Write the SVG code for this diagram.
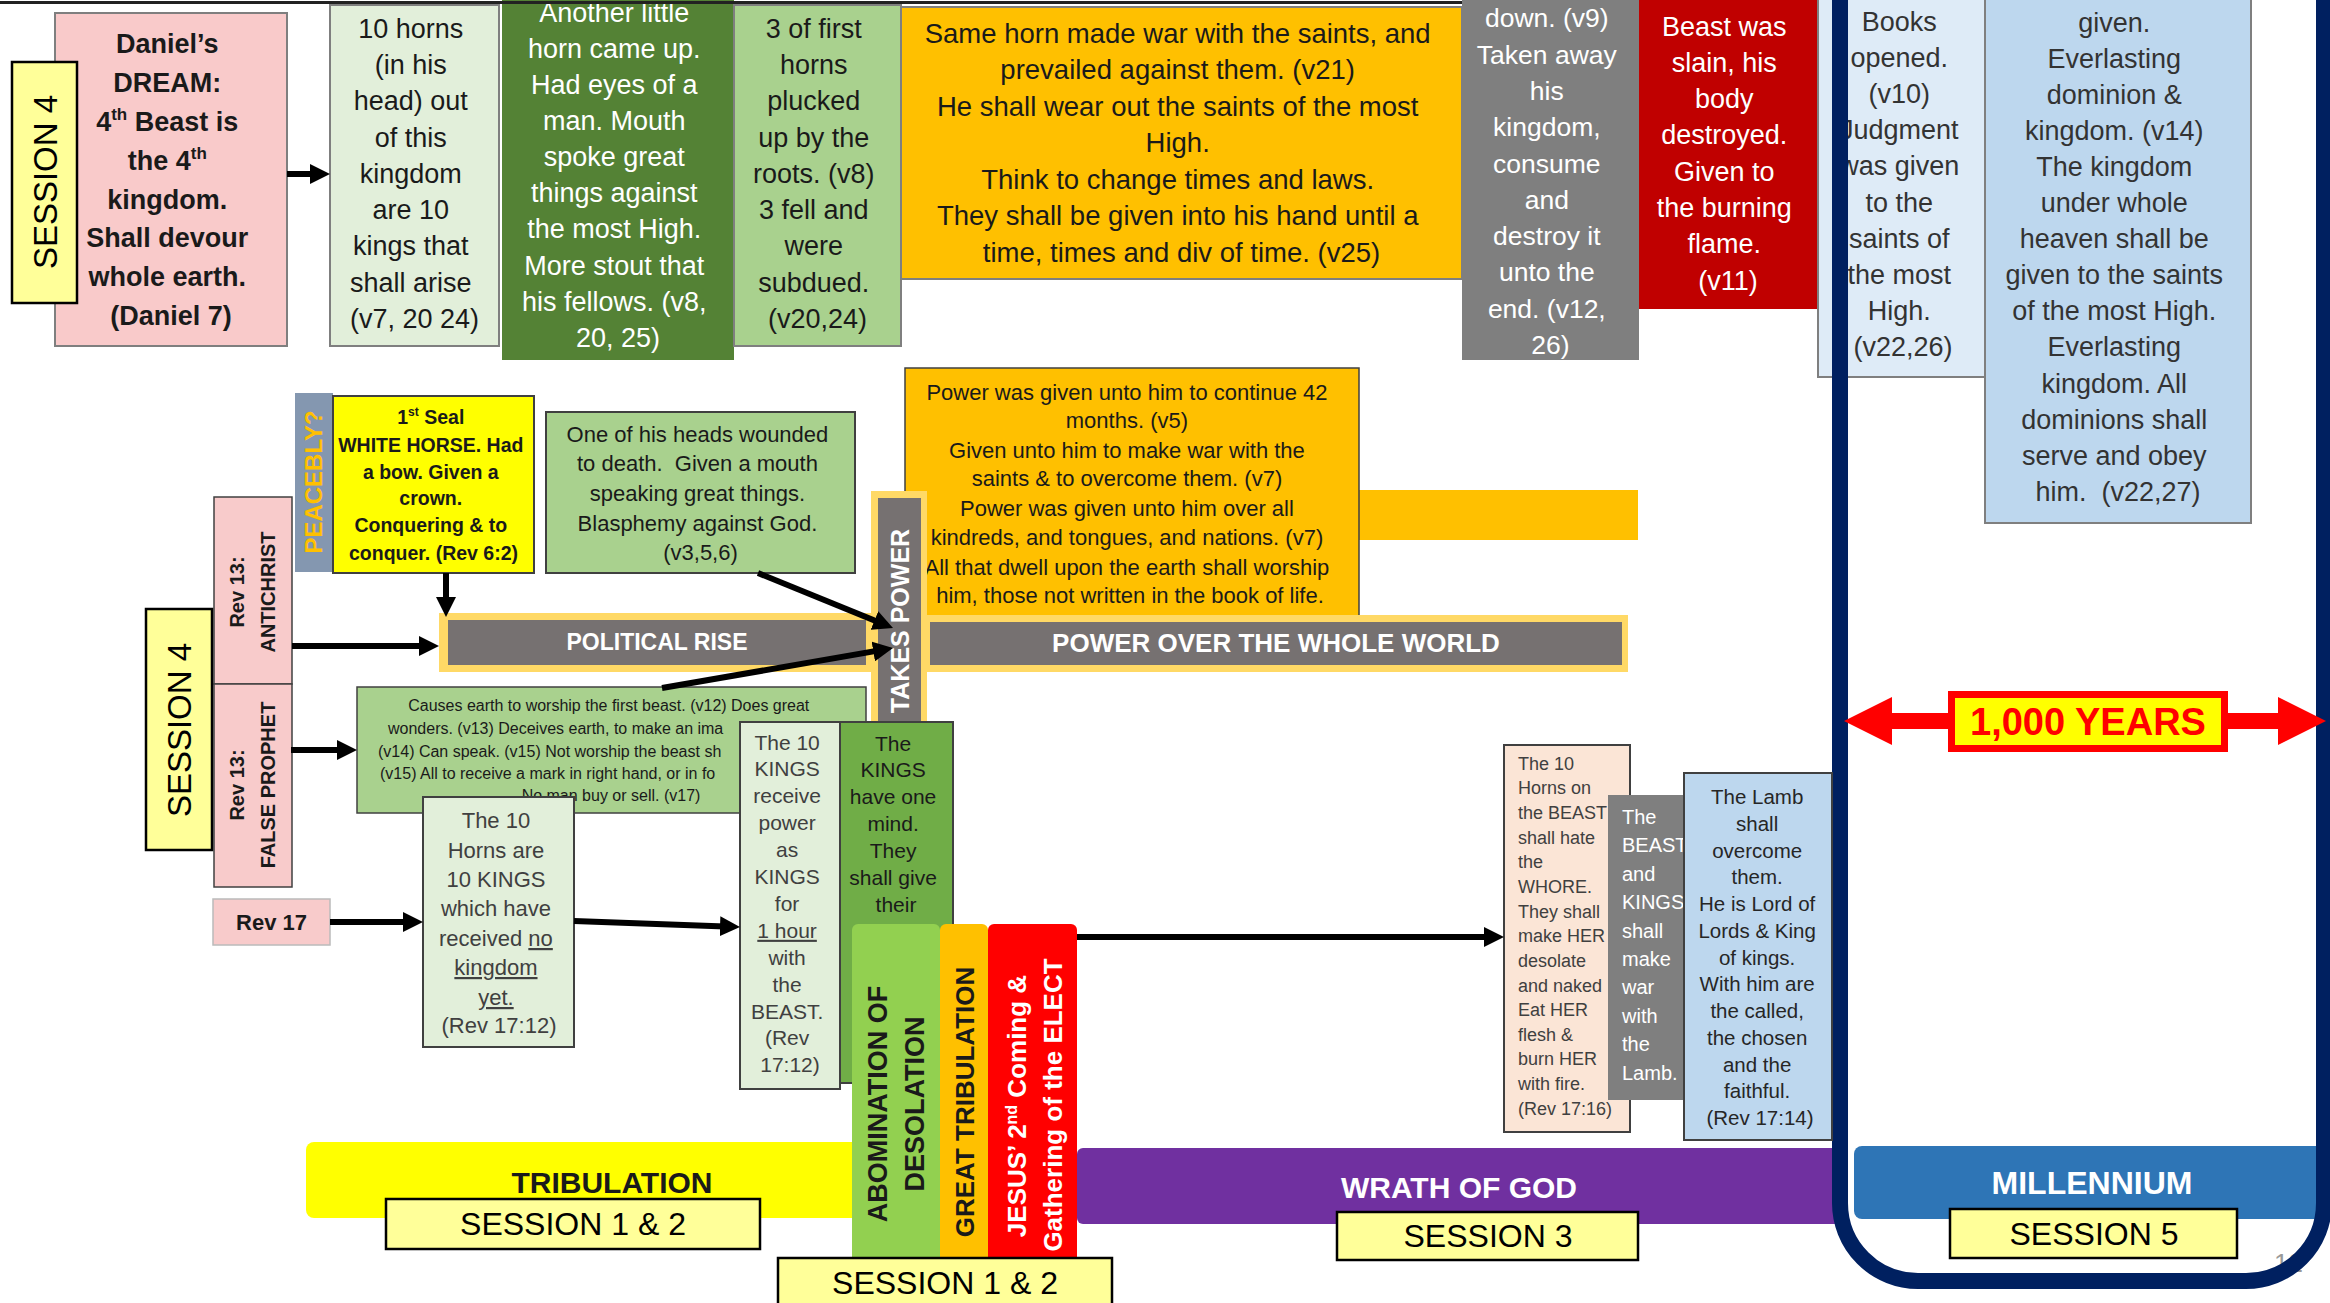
<svg xmlns="http://www.w3.org/2000/svg" width="2330" height="1303" viewBox="0 0 2330 1303">
<defs>
<style>
text{font-family:"Liberation Sans",Arial,sans-serif;}
.c{text-anchor:middle;}
.b{font-weight:bold;}
.box{stroke:#7f7f7f;stroke-width:2;}
.dk{stroke:#404040;stroke-width:2;}
.ses{fill:#FFFF99;stroke:#000;stroke-width:2.5;}
.w{fill:#fff;}
.k{fill:#1a1a1a;}
.g4{fill:#404040;}
.conn{stroke:#000;stroke-width:6;fill:none;marker-end:url(#ah);}
.u{text-decoration:underline;}
.gold{fill:#FFD966;}
.bar{fill:#767171;}
</style>
<marker id="ah" markerUnits="userSpaceOnUse" markerWidth="20" markerHeight="20" viewBox="0 0 20 20" refX="12" refY="10" orient="auto">
<path d="M0,0 L20,10 L0,20 z" fill="#000"/>
</marker>
</defs>
<rect width="2330" height="1303" fill="#fff"/>

<!-- top row -->
<g id="daniel">
<rect x="55" y="13" width="232" height="333" fill="#F9CACA" class="box"/>
<text class="c b k" font-size="27">
<tspan x="171" y="53">Daniel’s</tspan>
<tspan x="171" y="92">DREAM:</tspan>
<tspan x="171" y="131">4<tspan font-size="17" dy="-11">th</tspan><tspan dy="11"> Beast is</tspan></tspan>
<tspan x="171" y="170">the 4<tspan font-size="17" dy="-11">th</tspan></tspan>
<tspan x="171" y="209">kingdom.</tspan>
<tspan x="171" y="247">Shall devour</tspan>
<tspan x="171" y="286">whole earth.</tspan>
<tspan x="171" y="325">(Daniel 7)</tspan>
</text>
</g>
<g id="session4top">
<rect x="12" y="62" width="65" height="241" class="ses"/>
<text class="c" font-size="33" fill="#000" transform="translate(45,182) rotate(-90)" dy="0.35em">SESSION 4</text>
</g>
<g id="horns10">
<rect x="330" y="5" width="169" height="341" fill="#E2EFDA" class="box"/>
<text class="c k" font-size="27">
<tspan x="414.5" y="37.5">10 horns</tspan>
<tspan x="414.5" y="73.5">(in his</tspan>
<tspan x="414.5" y="110">head) out</tspan>
<tspan x="414.5" y="146.5">of this</tspan>
<tspan x="414.5" y="182.5">kingdom</tspan>
<tspan x="414.5" y="218.5">are 10</tspan>
<tspan x="414.5" y="255">kings that</tspan>
<tspan x="414.5" y="291.5">shall arise</tspan>
<tspan x="414.5" y="327.5">(v7, 20 24)</tspan>
</text>
</g>
<g id="littlehorn">
<rect x="502" y="0" width="232" height="360" fill="#548235"/>
<text class="c w" font-size="27">
<tspan x="618" y="21.5">Another little</tspan>
<tspan x="618" y="57.5">horn came up.</tspan>
<tspan x="618" y="93.5">Had eyes of a</tspan>
<tspan x="618" y="129.5">man. Mouth</tspan>
<tspan x="618" y="166">spoke great</tspan>
<tspan x="618" y="202">things against</tspan>
<tspan x="618" y="238">the most High.</tspan>
<tspan x="618" y="274.5">More stout that</tspan>
<tspan x="618" y="310.5">his fellows. (v8,</tspan>
<tspan x="618" y="346.5">20, 25)</tspan>
</text>
</g>
<g id="threehorns">
<rect x="734" y="5" width="167" height="341" fill="#A9D18E" class="box"/>
<text class="c k" font-size="27">
<tspan x="817.5" y="37.5">3 of first</tspan>
<tspan x="817.5" y="73.5">horns</tspan>
<tspan x="817.5" y="110">plucked</tspan>
<tspan x="817.5" y="146.5">up by the</tspan>
<tspan x="817.5" y="182.5">roots. (v8)</tspan>
<tspan x="817.5" y="218.5">3 fell and</tspan>
<tspan x="817.5" y="255">were</tspan>
<tspan x="817.5" y="291.5">subdued.</tspan>
<tspan x="817.5" y="327.5">(v20,24)</tspan>
</text>
</g>
<g id="samehorn">
<rect x="901" y="7" width="561" height="272" fill="#FFC000" class="box"/>
<text class="c k" font-size="27.5">
<tspan x="1181.5" y="42.7">Same horn made war with the saints, and</tspan>
<tspan x="1181.5" y="79.2">prevailed against them. (v21)</tspan>
<tspan x="1181.5" y="115.7">He shall wear out the saints of the most</tspan>
<tspan x="1181.5" y="152.2">High.</tspan>
<tspan x="1181.5" y="188.7">Think to change times and laws.</tspan>
<tspan x="1181.5" y="225.2">They shall be given into his hand until a</tspan>
<tspan x="1181.5" y="261.7">time, times and div of time. (v25)</tspan>
</text>
</g>
<g id="takenaway">
<rect x="1462" y="0" width="177" height="360" fill="#7F7F7F"/>
<text class="c w" font-size="26.5">
<tspan x="1550.5" y="27.3">down. (v9)</tspan>
<tspan x="1550.5" y="63.6">Taken away</tspan>
<tspan x="1550.5" y="99.9">his</tspan>
<tspan x="1550.5" y="136.2">kingdom,</tspan>
<tspan x="1550.5" y="172.5">consume</tspan>
<tspan x="1550.5" y="208.8">and</tspan>
<tspan x="1550.5" y="245.1">destroy it</tspan>
<tspan x="1550.5" y="281.4">unto the</tspan>
<tspan x="1550.5" y="317.7">end. (v12,</tspan>
<tspan x="1550.5" y="354">26)</tspan>
</text>
</g>
<g id="beastslain">
<rect x="1639" y="0" width="178" height="309" fill="#C00000"/>
<text class="c w" font-size="27">
<tspan x="1728" y="35.5">Beast was</tspan>
<tspan x="1728" y="71.8">slain, his</tspan>
<tspan x="1728" y="108.1">body</tspan>
<tspan x="1728" y="144.4">destroyed.</tspan>
<tspan x="1728" y="180.7">Given to</tspan>
<tspan x="1728" y="217">the burning</tspan>
<tspan x="1728" y="253.3">flame.</tspan>
<tspan x="1728" y="289.6">(v11)</tspan>
</text>
</g>
<g id="books">
<rect x="1818" y="-2" width="167" height="379" fill="#DEEBF7" class="box"/>
<text class="c" fill="#333" font-size="27">
<tspan x="1903" y="30.5">Books</tspan>
<tspan x="1903" y="66.7">opened.</tspan>
<tspan x="1903" y="102.9">(v10)</tspan>
<tspan x="1903" y="139.1">Judgment</tspan>
<tspan x="1903" y="175.3">was given</tspan>
<tspan x="1903" y="211.5">to the</tspan>
<tspan x="1903" y="247.7">saints of</tspan>
<tspan x="1903" y="283.9">the most</tspan>
<tspan x="1903" y="320.1">High.</tspan>
<tspan x="1903" y="356.3">(v22,26)</tspan>
</text>
</g>
<g id="everlasting">
<rect x="1985" y="-2" width="266" height="525" fill="#BDD7EE" class="box"/>
<text class="c" fill="#333" font-size="27">
<tspan x="2118" y="31.5">given.</tspan>
<tspan x="2118" y="67.6">Everlasting</tspan>
<tspan x="2118" y="103.7">dominion &amp;</tspan>
<tspan x="2118" y="139.8">kingdom. (v14)</tspan>
<tspan x="2118" y="175.9">The kingdom</tspan>
<tspan x="2118" y="212">under whole</tspan>
<tspan x="2118" y="248.1">heaven shall be</tspan>
<tspan x="2118" y="284.2">given to the saints</tspan>
<tspan x="2118" y="320.3">of the most High.</tspan>
<tspan x="2118" y="356.4">Everlasting</tspan>
<tspan x="2118" y="392.5">kingdom. All</tspan>
<tspan x="2118" y="428.6">dominions shall</tspan>
<tspan x="2118" y="464.7">serve and obey</tspan>
<tspan x="2118" y="500.8">him.&#160; (v22,27)</tspan>
</text>
</g>

<g id="wrath">
<rect x="1077" y="1148" width="769" height="76" rx="6" fill="#7030A0"/>
<text class="c b w" font-size="30" x="1459" y="1198">WRATH OF GOD</text>
</g>
<g id="millennium">
<rect x="1854" y="1146" width="470" height="73" rx="8" fill="#2E75B6"/>
<text class="c b w" font-size="32" x="2092" y="1194">MILLENNIUM</text>
</g>
<text x="2274" y="1272" font-size="26" fill="#999">12</text>
<g id="frame">
<rect x="1840" y="-90" width="484" height="1371" rx="78" fill="none" stroke="#002060" stroke-width="16"/>
</g>
<g id="years">
<rect x="1890" y="713" width="390" height="16" fill="#FF0000"/>
<polygon points="1844,721 1892,697 1892,745" fill="#FF0000"/>
<polygon points="2326,721 2278,697 2278,745" fill="#FF0000"/>
<rect x="1951.5" y="694.5" width="273" height="54" fill="#FFFF00" stroke="#FF0000" stroke-width="7"/>
<text class="c b" font-size="38" fill="#FF0000" x="2088" y="735">1,000 YEARS</text>
</g>
<g id="session5">
<rect x="1950" y="1209" width="287" height="49" class="ses"/>
<text class="c" font-size="32" fill="#000" x="2094" y="1245">SESSION 5</text>
</g>

<!-- middle -->
<g id="peacebly">
<rect x="295" y="393" width="38" height="179" fill="#8497B0"/>
<text class="c b" font-size="24" fill="#FFC000" transform="translate(314,482) rotate(-90)" dy="0.35em">PEACEBLY?</text>
</g>
<g id="whitehorse">
<rect x="333" y="396" width="201" height="177" fill="#FFFF00" class="dk"/>
<text class="c b k" font-size="19.5">
<tspan x="433.5" y="424">1<tspan font-size="12" dy="-8">st</tspan><tspan dy="8"> Seal</tspan></tspan>
<tspan x="433.5" y="452">WHITE HORSE. Had</tspan>
<tspan x="433.5" y="479">a bow. Given a</tspan>
<tspan x="433.5" y="505">crown.</tspan>
<tspan x="433.5" y="532">Conquering &amp; to</tspan>
<tspan x="433.5" y="560">conquer. (Rev 6:2)</tspan>
</text>
</g>
<g id="heads">
<rect x="546" y="412" width="309" height="161" fill="#A9D18E" class="dk"/>
<text class="c k" font-size="22">
<tspan x="700.5" y="442">One of his heads wounded</tspan>
<tspan x="700.5" y="471">to death.&#160; Given a mouth</tspan>
<tspan x="700.5" y="501">speaking great things.</tspan>
<tspan x="700.5" y="531">Blasphemy against God.</tspan>
<tspan x="700.5" y="560">(v3,5,6)</tspan>
</text>
</g>
<g id="goldstrip">
<rect x="1359" y="490" width="279" height="50" fill="#FFC000"/>
</g>
<g id="powergiven">
<rect x="905" y="368" width="454" height="249" fill="#FFC000" stroke="#404040" stroke-width="1.5"/>
<text class="c k" font-size="22">
<tspan x="1130" y="400">Power was given unto him to continue 42</tspan>
<tspan x="1130" y="428">months. (v5)</tspan>
<tspan x="1130" y="458">Given unto him to make war with the</tspan>
<tspan x="1130" y="486">saints &amp; to overcome them. (v7)</tspan>
<tspan x="1130" y="516">Power was given unto him over all</tspan>
<tspan x="1130" y="545">kindreds, and tongues, and nations. (v7)</tspan>
<tspan x="1130" y="575">All that dwell upon the earth shall worship</tspan>
<tspan x="1130" y="603">him, those not written in the book of life.</tspan>
</text>
</g>
<g id="politicalrise">
<rect x="439" y="613" width="434" height="59" class="gold"/>
<rect x="448" y="620" width="418" height="45" class="bar"/>
<text class="c b w" font-size="23" x="657" y="650">POLITICAL RISE</text>
</g>
<g id="powerworld">
<rect x="924" y="615" width="704" height="57" class="gold"/>
<rect x="930" y="622" width="692" height="43" class="bar"/>
<text class="c b w" font-size="26" x="1276" y="652">POWER OVER THE WHOLE WORLD</text>
</g>
<g id="takespower">
<rect x="871" y="491" width="56" height="240" class="gold"/>
<rect x="878" y="498" width="43" height="233" class="bar"/>
<text class="c b w" font-size="25" transform="translate(900,621) rotate(-90)" dy="0.35em">TAKES POWER</text>
</g>
<g id="antichrist">
<rect x="214" y="497" width="78" height="187" fill="#F8CBCB" stroke="#404040" stroke-width="1.5"/>
<text class="c b k" font-size="20" transform="translate(237,592) rotate(-90)" dy="0.35em">Rev 13:</text>
<text class="c b k" font-size="20" transform="translate(268,592) rotate(-90)" dy="0.35em">ANTICHRIST</text>
</g>
<g id="falseprophet">
<rect x="214" y="684" width="78" height="203" fill="#F8CBCB" stroke="#404040" stroke-width="1.5"/>
<text class="c b k" font-size="20" transform="translate(237,785) rotate(-90)" dy="0.35em">Rev 13:</text>
<text class="c b k" font-size="20" transform="translate(268,785) rotate(-90)" dy="0.35em">FALSE PROPHET</text>
</g>
<g id="session4mid">
<rect x="146" y="609" width="66" height="241" class="ses"/>
<text class="c" font-size="33" fill="#000" transform="translate(179,730) rotate(-90)" dy="0.35em">SESSION 4</text>
</g>
<g id="rev17">
<rect x="213" y="899" width="117" height="46" fill="#F8CBCB" stroke="#bbb" stroke-width="1.5"/>
<text class="c b k" font-size="22" x="271.5" y="930">Rev 17</text>
</g>
<g id="causes">
<rect x="357" y="687" width="509" height="126" fill="#A9D18E" stroke="#404040" stroke-width="1.5"/>
<text class="k" font-size="16">
<tspan x="611" y="711" text-anchor="middle">Causes earth to worship the first beast. (v12) Does great</tspan>
<tspan x="388" y="734">wonders. (v13) Deceives earth, to make an ima</tspan>
<tspan x="378" y="757">(v14) Can speak. (v15) Not worship the beast sh</tspan>
<tspan x="380" y="779">(v15) All to receive a mark in right hand, or in fo</tspan>
<tspan x="611" y="801" text-anchor="middle">No man buy or sell. (v17)</tspan>
</text>
</g>
<g id="tenhornskings">
<rect x="423" y="797" width="151" height="250" fill="#E2EFDA" class="dk"/>
<text class="c g4" font-size="22">
<tspan x="499" y="828">The 10</tspan>
<tspan x="499" y="858">Horns are</tspan>
<tspan x="499" y="887">10 KINGS</tspan>
<tspan x="499" y="916">which have</tspan>
<tspan x="499" y="946">received <tspan class="u">no</tspan></tspan>
<tspan x="499" y="975" class="u">kingdom</tspan>
<tspan x="499" y="1005" class="u">yet.</tspan>
<tspan x="499" y="1033">(Rev 17:12)</tspan>
</text>
</g>
<g id="tenkings">
<rect x="740" y="722" width="100" height="367" fill="#E2EFDA" class="dk"/>
<text class="c g4" font-size="21">
<tspan x="790" y="749.5">The 10</tspan>
<tspan x="790" y="776.4">KINGS</tspan>
<tspan x="790" y="803.3">receive</tspan>
<tspan x="790" y="830.2">power</tspan>
<tspan x="790" y="857.1">as</tspan>
<tspan x="790" y="884">KINGS</tspan>
<tspan x="790" y="910.9">for</tspan>
<tspan x="790" y="937.8" class="u">1 hour</tspan>
<tspan x="790" y="964.7">with</tspan>
<tspan x="790" y="991.6">the</tspan>
<tspan x="790" y="1018.5">BEAST.</tspan>
<tspan x="790" y="1045.4">(Rev</tspan>
<tspan x="790" y="1072.3">17:12)</tspan>
</text>
</g>
<g id="onemind">
<rect x="840" y="722" width="113" height="361" fill="#70AD47" class="dk"/>
<text class="c k" font-size="21">
<tspan x="896" y="750.5">The</tspan>
<tspan x="896" y="777.4">KINGS</tspan>
<tspan x="896" y="804.3">have one</tspan>
<tspan x="896" y="831.2">mind.</tspan>
<tspan x="896" y="858.1">They</tspan>
<tspan x="896" y="885">shall give</tspan>
<tspan x="896" y="911.9">their</tspan>
</text>
</g>
<g id="tribulation">
<rect x="306" y="1142" width="556" height="76" rx="8" fill="#FFFF00"/>
<text class="c b k" font-size="30" x="612" y="1193">TRIBULATION</text>
</g>
<g id="abomination">
<rect x="852" y="924" width="88" height="350" rx="6" fill="#92D050"/>
<text class="c b k" font-size="27" transform="translate(878,1104) rotate(-90)" dy="0.35em">ABOMINATION OF</text>
<text class="c b k" font-size="27" transform="translate(915,1104) rotate(-90)" dy="0.35em">DESOLATION</text>
</g>
<g id="greattrib">
<rect x="940" y="924" width="48" height="350" rx="6" fill="#FFC000"/>
<text class="c b k" font-size="26" transform="translate(965,1102) rotate(-90)" dy="0.35em">GREAT TRIBULATION</text>
</g>
<g id="secondcoming">
<rect x="988" y="924" width="89" height="350" rx="6" fill="#FF0000"/>
<text class="c b w" font-size="26" transform="translate(1017,1106) rotate(-90)" dy="0.35em">JESUS’ 2<tspan font-size="16" dy="-9">nd</tspan><tspan dy="9"> Coming &amp;</tspan></text>
<text class="c b w" font-size="26" transform="translate(1053,1105) rotate(-90)" dy="0.35em">Gathering of the ELECT</text>
</g>
<g id="session12a">
<rect x="386" y="1199" width="374" height="50" class="ses"/>
<text class="c" font-size="32" fill="#000" x="573" y="1235">SESSION 1 &amp; 2</text>
</g>
<g id="session12b">
<rect x="778" y="1258" width="334" height="60" class="ses"/>
<text class="c" font-size="32" fill="#000" x="945" y="1294">SESSION 1 &amp; 2</text>
</g>
<g id="session3">
<rect x="1337" y="1212" width="301" height="48" class="ses"/>
<text class="c" font-size="32" fill="#000" x="1488" y="1247">SESSION 3</text>
</g>
<g id="hatewhore">
<rect x="1504" y="745" width="126" height="387" fill="#FBE5D6" class="dk"/>
<text class="g4" font-size="18">
<tspan x="1518" y="769.6">The 10</tspan>
<tspan x="1518" y="794.3">Horns on</tspan>
<tspan x="1518" y="818.9">the BEAST</tspan>
<tspan x="1518" y="843.6">shall hate</tspan>
<tspan x="1518" y="868.2">the</tspan>
<tspan x="1518" y="892.9">WHORE.</tspan>
<tspan x="1518" y="917.5">They shall</tspan>
<tspan x="1518" y="942.2">make HER</tspan>
<tspan x="1518" y="966.8">desolate</tspan>
<tspan x="1518" y="991.5">and naked</tspan>
<tspan x="1518" y="1016.1">Eat HER</tspan>
<tspan x="1518" y="1040.8">flesh &amp;</tspan>
<tspan x="1518" y="1065.4">burn HER</tspan>
<tspan x="1518" y="1090.1">with fire.</tspan>
<tspan x="1518" y="1114.7">(Rev 17:16)</tspan>
</text>
</g>
<g id="makewar">
<rect x="1608" y="795" width="76" height="305" fill="#7F7F7F"/>
<text class="w" font-size="20">
<tspan x="1622" y="824">The</tspan>
<tspan x="1622" y="852.4">BEAST</tspan>
<tspan x="1622" y="880.8">and</tspan>
<tspan x="1622" y="909.2">KINGS</tspan>
<tspan x="1622" y="937.6">shall</tspan>
<tspan x="1622" y="966">make</tspan>
<tspan x="1622" y="994.4">war</tspan>
<tspan x="1622" y="1022.8">with</tspan>
<tspan x="1622" y="1051.2">the</tspan>
<tspan x="1622" y="1079.6">Lamb.</tspan>
</text>
</g>
<g id="lamb">
<rect x="1684" y="773" width="148" height="367" fill="#BDD7EE" class="dk"/>
<text class="c" fill="#262626" font-size="20.5">
<tspan x="1760" y="804">The Lamb</tspan>
<tspan x="1760" y="830.8">shall</tspan>
<tspan x="1760" y="857.5">overcome</tspan>
<tspan x="1760" y="884.3">them.</tspan>
<tspan x="1760" y="911">He is Lord of</tspan>
<tspan x="1760" y="937.8">Lords &amp; King</tspan>
<tspan x="1760" y="964.5">of kings.</tspan>
<tspan x="1760" y="991.3">With him are</tspan>
<tspan x="1760" y="1018">the called,</tspan>
<tspan x="1760" y="1044.8">the chosen</tspan>
<tspan x="1760" y="1071.5">and the</tspan>
<tspan x="1760" y="1098.3">faithful.</tspan>
<tspan x="1760" y="1125">(Rev 17:14)</tspan>
</text>
</g>

<g id="connectors">
<line class="conn" x1="287" y1="174" x2="322" y2="174"/>
<line class="conn" x1="446" y1="573" x2="446" y2="609"/>
<line class="conn" x1="292" y1="646" x2="431" y2="646"/>
<line class="conn" x1="758" y1="573" x2="885.6" y2="625"/>
<line class="conn" x1="662" y1="688" x2="885.1" y2="649.4"/>
<line class="conn" x1="291" y1="750" x2="349" y2="750"/>
<line class="conn" x1="330" y1="922" x2="415" y2="922"/>
<line class="conn" x1="574" y1="921" x2="732" y2="926.7"/>
<line class="conn" x1="1077" y1="937" x2="1496" y2="937"/>
</g>
<line x1="0" y1="2.5" x2="1462" y2="2.5" stroke="#222" stroke-width="3"/>
</svg>
